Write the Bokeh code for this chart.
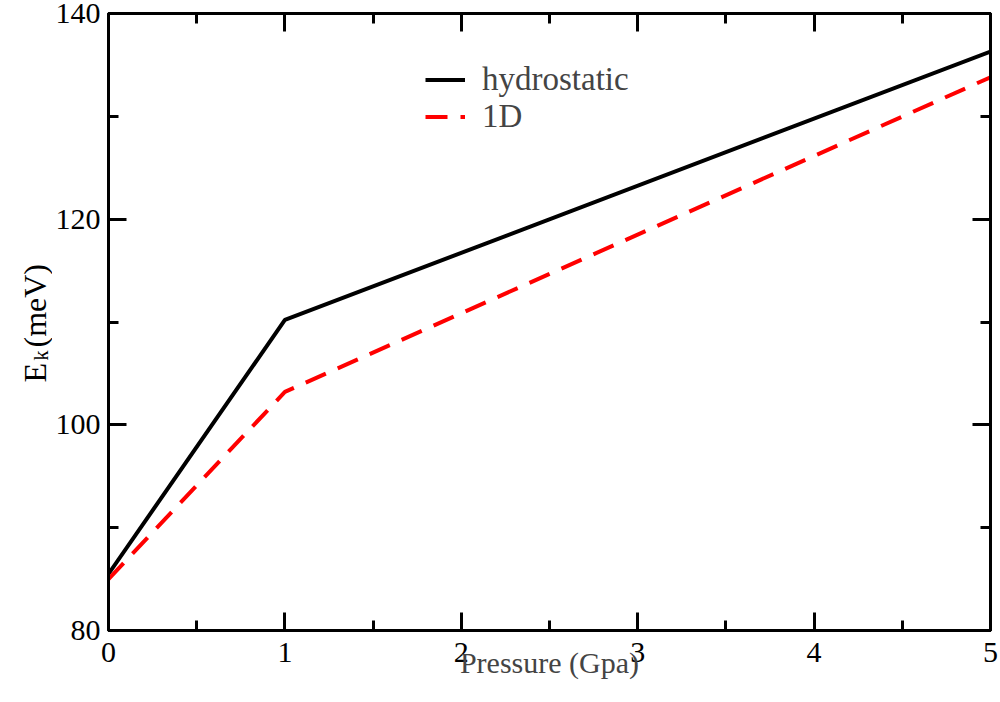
import math
from bokeh.plotting import figure
from bokeh.layouts import row
from bokeh.models import (Range1d, LinearAxis, FixedTicker, Label, Legend, LegendItem)
from bokeh.embed import file_html
from bokeh.resources import INLINE

# ---- data ----
pressure = [0, 1, 5]
hydrostatic = [85.5, 110.2, 136.3]
one_d = [85.0, 103.2, 133.8]

x_major = [0, 1, 2, 3, 4, 5]
x_minor = [0.5, 1.5, 2.5, 3.5, 4.5]
y_major = [80, 100, 120, 140]
y_minor = [90, 110, 130]

x_label = "Pressure (Gpa)"
y_label_main, y_label_sub, y_label_unit = "E", "k", "(meV)"
series_names = ["hydrostatic", "1D"]

FONT = "Liberation Serif"
FS = "30px"
STRIP = 52

p = figure(width=1000 - STRIP, height=702, output_backend="svg", toolbar_location=None,
           x_range=Range1d(0, 5), y_range=Range1d(80, 140),
           x_axis_location=None, y_axis_location=None,
           min_border_left=108 - STRIP, min_border_right=10, min_border_top=13, min_border_bottom=72)
p.xgrid.visible = False
p.ygrid.visible = False
p.outline_line_color = "black"
p.outline_line_width = 3
p.background_fill_color = "white"
p.border_fill_color = "white"

xt = FixedTicker(ticks=x_major, minor_ticks=x_minor)
yt = FixedTicker(ticks=y_major, minor_ticks=y_minor)


def style(ax, show_labels):
    ax.axis_line_width = 3
    ax.axis_line_color = "black"
    ax.major_tick_in = 18
    ax.major_tick_out = 0
    ax.minor_tick_in = 10
    ax.minor_tick_out = 0
    ax.major_tick_line_width = 3
    ax.minor_tick_line_width = 3
    ax.major_label_text_font = FONT
    if show_labels:
        ax.major_label_text_font_size = FS
        ax.major_label_text_color = "black"
    else:
        ax.major_label_text_font_size = "0px"
        ax.major_label_standoff = 0


bx = LinearAxis(ticker=xt, axis_label=x_label)
style(bx, True)
bx.major_label_standoff = 12
bx.axis_label_text_font = FONT
bx.axis_label_text_font_size = FS
bx.axis_label_text_font_style = "normal"
bx.axis_label_standoff = -19
p.add_layout(bx, "below")

ly = LinearAxis(ticker=yt)
style(ly, True)
ly.major_label_standoff = 8
p.add_layout(ly, "left")

tx = LinearAxis(ticker=xt)
style(tx, False)
p.add_layout(tx, "above")

ry = LinearAxis(ticker=yt)
style(ry, False)
p.add_layout(ry, "right")

r1 = p.line(pressure, hydrostatic, line_color="black", line_width=4)
r2 = p.line(pressure, one_d, line_color="#ff0000", line_width=4, line_dash="22 13")

legend = Legend(items=[LegendItem(label=series_names[0], renderers=[r1]),
                       LegendItem(label=series_names[1], renderers=[r2])],
                location=(317, 495), orientation="vertical")
legend.label_text_font = FONT
legend.label_text_font_size = "33px"
legend.glyph_width = 40
legend.glyph_height = 33
legend.label_height = 33
legend.label_standoff = 17
legend.spacing = 0
legend.padding = 0
legend.margin = 0
legend.border_line_color = None
legend.background_fill_alpha = 0
p.add_layout(legend)

# narrow strip at the left carrying the rotated y-axis title with subscript
# (its frame is aligned with the main frame: top 13, bottom 630)
lab = figure(width=STRIP, height=702, output_backend="svg", toolbar_location=None,
             x_range=Range1d(0, 1), y_range=Range1d(0, 1),
             x_axis_location=None, y_axis_location=None,
             min_border=0, min_border_left=0, min_border_right=0,
             min_border_top=0, min_border_bottom=0)
lab.xgrid.visible = False
lab.ygrid.visible = False
lab.outline_line_color = None
lab.background_fill_color = "white"
lab.border_fill_color = "white"

common = dict(angle=math.pi / 2, text_font=FONT, text_color="black",
              text_align="left", x_units="screen", y_units="screen")
lab.add_layout(Label(x=34, y=248, text=y_label_main, text_font_size="32px",
                     text_baseline="alphabetic", **common))
lab.add_layout(Label(x=51, y=270, text=y_label_sub, text_font_size="20px",
                     text_baseline="bottom", **common))
lab.add_layout(Label(x=34, y=283, text=y_label_unit, text_font_size="32px",
                     text_baseline="alphabetic", **common))

layout = row(lab, p, spacing=0)
open("out.html", "w").write(file_html(layout, INLINE))
